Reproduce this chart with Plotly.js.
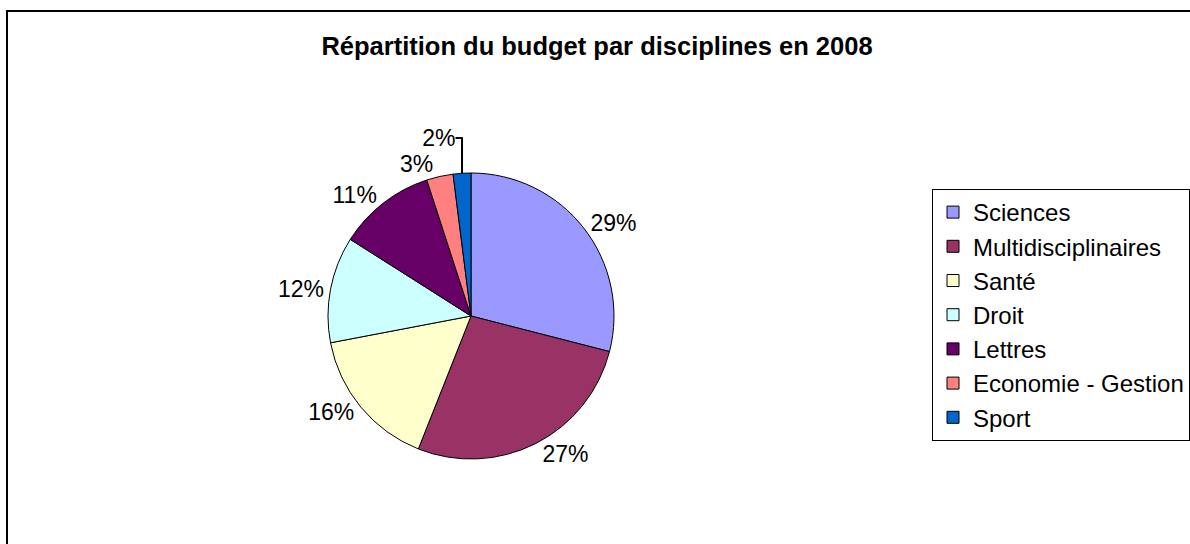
<!DOCTYPE html>
<html>
<head>
<meta charset="utf-8">
<script src="https://cdn.plot.ly/plotly-3.0.1.min.js"></script>
<style>
  html, body { margin: 0; padding: 0; overflow: hidden; background: #fff; }
  #chart { position: absolute; left: 0; top: 0; width: 1190px; height: 544px; }
  #frame { position: absolute; left: 6px; top: 10px; width: 1300px; height: 700px;
           border-left: 2px solid #000; border-top: 2px solid #000; pointer-events: none; }
</style>
</head>
<body>
<div id="chart"></div>
<div id="frame"></div>
<script>
const chartTitle = "Répartition du budget par disciplines en 2008";
const categories = ["Sciences", "Multidisciplinaires", "Santé", "Droit", "Lettres", "Economie - Gestion", "Sport"];
const shares = [29, 27, 16, 12, 11, 3, 2];
const sliceColors = ["#9999FF", "#993366", "#FFFFCC", "#CCFFFF", "#660066", "#FF8080", "#0066CC"];

const W = 1190, H = 544;
const cx = 471, cy = 316, r = 143;

const trace = {
  type: "pie",
  labels: categories,
  values: shares,
  sort: false,
  direction: "clockwise",
  rotation: 0,
  marker: { colors: sliceColors, line: { color: "#000", width: 1 } },
  textinfo: "percent",
  textposition: "outside",
  outsidetextfont: { family: "Liberation Sans, Arial, sans-serif", size: 23, color: "#000" },
  hoverinfo: "label+percent",
  domain: {
    x: [(cx - r) / W, (cx + r) / W],
    y: [1 - (cy + r) / H, 1 - (cy - r) / H]
  },
  automargin: false
};

const layout = {
  width: W, height: H,
  margin: { l: 0, r: 0, t: 0, b: 0, autoexpand: false },
  paper_bgcolor: "#fff",
  plot_bgcolor: "#fff",
  font: { family: "Liberation Sans, Arial, sans-serif", color: "#000" },
  title: {
    text: chartTitle,
    font: { family: "Liberation Sans, Arial, sans-serif", size: 25.5, weight: "bold", color: "#000" },
    x: 597 / W, xanchor: "center",
    y: 1 - 46 / H, yanchor: "middle",
    xref: "paper", yref: "paper"
  },
  showlegend: true,
  legend: {
    x: 932 / W, xanchor: "left",
    y: 1 - 189 / H, yanchor: "top",
    bgcolor: "#fff",
    bordercolor: "#000",
    borderwidth: 1,
    font: { family: "Liberation Sans, Arial, sans-serif", size: 24, color: "#000" },
    traceorder: "normal"
  }
};

Plotly.newPlot("chart", [trace], layout, { staticPlot: true, displayModeBar: false });
</script>
</body>
</html>
